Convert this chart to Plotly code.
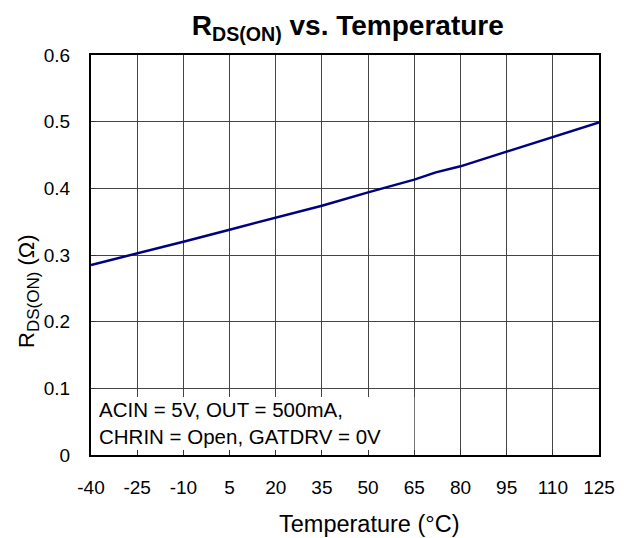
import plotly.graph_objects as go

temperature = [-40, -25, -10, 5, 20, 35, 50, 65, 72, 80, 95, 110, 125]
rds_on = [0.285, 0.302, 0.320, 0.338, 0.356, 0.374, 0.394, 0.413, 0.424, 0.433, 0.455, 0.477, 0.499]

x_ticks = [-40, -25, -10, 5, 20, 35, 50, 65, 80, 95, 110, 125]
y_ticks = [0, 0.1, 0.2, 0.3, 0.4, 0.5, 0.6]
y_tick_labels = ["0", "0.1", "0.2", "0.3", "0.4", "0.5", "0.6"]

FONT = "Liberation Sans, Arial, sans-serif"

fig = go.Figure()
fig.add_trace(go.Scatter(
    x=temperature, y=rds_on, mode="lines",
    line=dict(color="#000080", width=2.5), showlegend=False,
))

fig.add_shape(type="rect", xref="x", yref="y", x0=-40, x1=65, y0=0, y1=0.087,
              fillcolor="white", line=dict(width=0), layer="between")

fig.add_annotation(
    x=-40, y=0.048, xref="x", yref="y", xanchor="left", yanchor="middle",
    text="ACIN = 5V, OUT = 500mA,<br>CHRIN = Open, GATDRV = 0V",
    showarrow=False, align="left", xshift=6,
    font=dict(family=FONT, size=20.5, color="black"),
)

# x-axis title
fig.add_annotation(
    x=0.548, y=0, xref="paper", yref="paper", xanchor="center", yanchor="middle",
    yshift=-69, showarrow=False, text="Temperature (°C)",
    font=dict(family=FONT, size=23.5, color="black"),
)
# y-axis title
fig.add_annotation(
    x=0, y=0.41, xref="paper", yref="paper", xanchor="center", yanchor="middle",
    xshift=-63, showarrow=False, textangle=-90,
    text="R<sub><span style='font-size:17px'>DS(ON)</span></sub> (Ω)",
    font=dict(family=FONT, size=22, color="black"),
)

fig.update_layout(
    width=619, height=530,
    margin=dict(l=83, r=19, t=47, b=83),
    paper_bgcolor="white", plot_bgcolor="white",
    font=dict(family=FONT, size=19, color="black"),
    title=dict(text="<b>R<sub>DS(ON)</sub> vs. Temperature</b>", x=0.549, xanchor="center",
               y=0.968, yanchor="middle", font=dict(family=FONT, size=28, color="black")),
)

fig.update_xaxes(
    range=[-40, 125], tickvals=x_ticks, ticktext=[str(v) for v in x_ticks],
    showgrid=True, gridcolor="#444444", gridwidth=1,
    showline=True, linecolor="black", linewidth=2, mirror=True,
    ticks="inside", ticklen=5, tickcolor="#333333", ticklabelstandoff=14,
    zeroline=False, tickfont=dict(size=19),
)
fig.update_yaxes(
    range=[0, 0.6], tickvals=y_ticks, ticktext=y_tick_labels,
    showgrid=True, gridcolor="#444444", gridwidth=1,
    showline=True, linecolor="black", linewidth=2, mirror=True,
    ticks="inside", ticklen=5, tickcolor="#333333", ticklabelstandoff=15,
    zeroline=False, tickfont=dict(size=19),
)

fig.write_html("out.html")
